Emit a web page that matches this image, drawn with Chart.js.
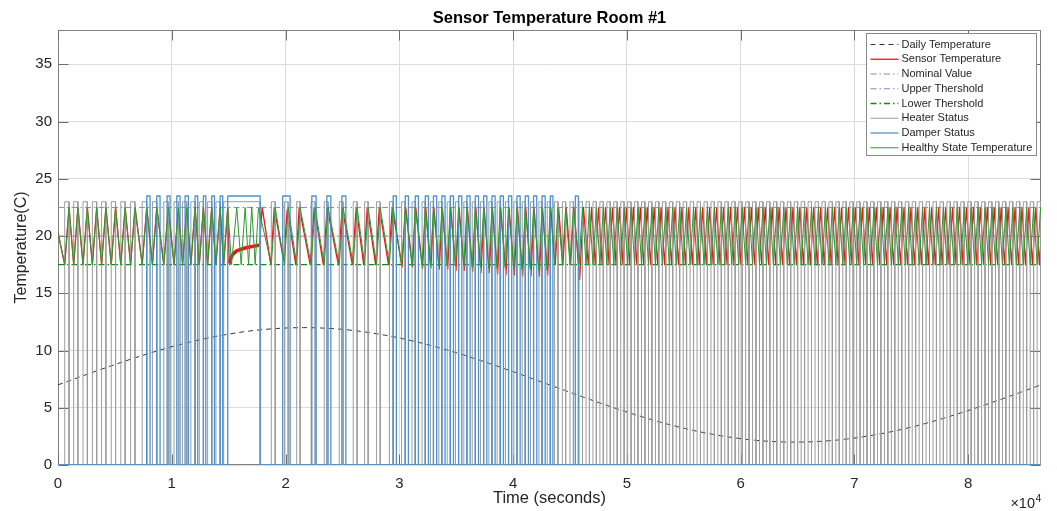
<!DOCTYPE html>
<html><head><meta charset="utf-8">
<script src="https://cdn.jsdelivr.net/npm/chart.js@4.4.1/dist/chart.umd.min.js"></script>
<style>html,body{margin:0;padding:0;background:#fff;}canvas{display:block;}</style>
</head><body>
<canvas id="c" width="1057" height="511"></canvas>
<script>
// ---------------- data (seconds, degrees C) ----------------
const xTickValues = [0,10000,20000,30000,40000,50000,60000,70000,80000];
const xTickLabels = ['0','1','2','3','4','5','6','7','8'];
const yTickValues = [0,5,10,15,20,25,30,35];
const yTickLabels = ['0','5','10','15','20','25','30','35'];

const dailyTime = [0,3600,7200,10800,14400,18000,21600,25200,28800,32400,36000,39600,43200,46800,50400,54000,57600,61200,64800,68400,72000,75600,79200,82800,86400];
const dailyTemp = [7,8.29,9.5,10.54,11.33,11.83,12,11.83,11.33,10.54,9.5,8.29,7,5.71,4.5,3.46,2.67,2.17,2,2.17,2.67,3.46,4.5,5.71,7];

const nominalValue = 20;
const upperThreshold = 22.5;
const lowerThreshold = 17.5;
const heaterLevel = 23;
const damperLevel = 23.5;

const healthyTime = [0,
 590,970, 1380,1750, 2200,2580, 3020,3400, 3830,4210, 4680,5060, 5520,5900, 6380,6770,
 7400,7800, 8300,8680, 9300,9700, 10200,10580, 10950,11320, 11680,12050, 12420,12780, 13150,13510, 13880,14250, 14560,14920,
 15250,15710, 16100,16450, 16750,17030, 17330,17620,
 18750,19090, 19900,20230, 20980,21280, 22250,22600, 23400,23740, 24720,25060, 25950,26290, 26950,27260, 28000,28320, 29130,29460,
 30200,30520, 31120,31400, 32000,32280, 32730,33000, 33470,33740, 34210,34480, 34940,35210, 35670,35940, 36410,36680, 37140,37410,
 37870,38140, 38600,38870, 39330,39600, 40070,40340, 40800,41070, 41530,41800, 42270,42540, 43000,43270,
 43650,43950, 44330,44620, 45000,45300, 45800,46100,
 46410,46710, 47020,47320, 47630,47930, 48240,48540, 48850,49150, 49460,49760, 50070,50370, 50680,50980, 51290,51590, 51900,52200,
 52510,52810, 53120,53420, 53730,54030, 54340,54640, 54950,55250, 55560,55860, 56170,56470, 56780,57080, 57390,57690, 58000,58300,
 58610,58910, 59220,59520, 59830,60130, 60440,60740, 61050,61350, 61660,61960, 62270,62570, 62880,63180, 63490,63790, 64100,64400,
 64710,65010, 65320,65620, 65930,66230, 66540,66840, 67150,67450, 67760,68060, 68370,68670, 68980,69280, 69590,69890, 70200,70500,
 70810,71110, 71420,71720, 72030,72330, 72640,72940, 73250,73550, 73860,74160, 74470,74770, 75080,75380, 75690,75990, 76300,76600,
 76910,77210, 77520,77820, 78130,78430, 78740,79040, 79350,79650, 79960,80260, 80570,80870, 81180,81480, 81790,82090, 82400,82700,
 83010,83310, 83620,83920, 84230,84530, 84840,85140, 85450,85750, 86060,86360,
 86400];
const healthyTemp = [20.3,
 17.5,22.5, 17.5,22.5, 17.5,22.5, 17.5,22.5, 17.5,22.5, 17.5,22.5, 17.5,22.5, 17.5,22.5,
 17.5,22.5, 17.5,22.5, 17.5,22.5, 17.5,22.5, 17.5,22.5, 17.5,22.5, 17.5,22.5, 17.5,22.5, 17.5,22.5, 17.5,22.5,
 17.5,22.5, 17.5,22.5, 17.5,22.5, 17.5,22.5,
 17.5,22.5, 17.5,22.5, 17.5,22.5, 17.5,22.5, 17.5,22.5, 17.5,22.5, 17.5,22.5, 17.5,22.5, 17.5,22.5, 17.5,22.5,
 17.4,22.5, 17.4,22.5, 17.4,22.5, 17.4,22.5, 17.4,22.5, 17.4,22.5, 17.4,22.5, 17.4,22.5, 17.3,22.5, 17.3,22.5,
 17.2,22.5, 17.2,22.5, 17.2,22.5, 17.1,22.5, 17.1,22.5, 17.1,22.5, 17.0,22.5, 17.0,22.5,
 17.5,22.5, 17.5,22.5, 17.5,22.5, 17.5,22.5,
 17.5,22.5, 17.5,22.5, 17.5,22.5, 17.5,22.5, 17.5,22.5, 17.5,22.5, 17.5,22.5, 17.5,22.5, 17.5,22.5, 17.5,22.5,
 17.5,22.5, 17.5,22.5, 17.5,22.5, 17.5,22.5, 17.5,22.5, 17.5,22.5, 17.5,22.5, 17.5,22.5, 17.5,22.5, 17.5,22.5,
 17.5,22.5, 17.5,22.5, 17.5,22.5, 17.5,22.5, 17.5,22.5, 17.5,22.5, 17.5,22.5, 17.5,22.5, 17.5,22.5, 17.5,22.5,
 17.5,22.5, 17.5,22.5, 17.5,22.5, 17.5,22.5, 17.5,22.5, 17.5,22.5, 17.5,22.5, 17.5,22.5, 17.5,22.5, 17.5,22.5,
 17.5,22.5, 17.5,22.5, 17.5,22.5, 17.5,22.5, 17.5,22.5, 17.5,22.5, 17.5,22.5, 17.5,22.5, 17.5,22.5, 17.5,22.5,
 17.5,22.5, 17.5,22.5, 17.5,22.5, 17.5,22.5, 17.5,22.5, 17.5,22.5, 17.5,22.5, 17.5,22.5, 17.5,22.5, 17.5,22.5,
 17.5,22.5, 17.5,22.5, 17.5,22.5, 17.5,22.5, 17.5,22.5, 17.5,22.5,
 22.2];

const sensorTime = [0,
 590,970, 1380,1750, 2200,2580, 3020,3400, 3830,4210, 4680,5060, 5520,5900, 6380,6770,
 7400,7800, 8300,8680, 9300,9700, 10200,10580, 10950,11320, 11680,12050, 12420,12780, 13150,13510, 13880,14250, 14560,14920,
 15050,15200,15400,15700,16100,16600,17100,17700,
 17950, 18700,19010, 19820,20150, 20900,21200, 22170,22520, 23320,23660, 24640,24980, 25870,26210, 26870,27180, 27920,28240, 29050,29380,
 30240,30560, 31160,31440, 32040,32320, 32770,33040, 33510,33780, 34250,34520, 34980,35250, 35710,35980, 36450,36720, 37180,37450,
 37910,38180, 38640,38910, 39370,39640, 40110,40380, 40840,41110, 41570,41840, 42310,42580, 43040,43310,
 43700,44000, 44380,44670, 45050,45350, 45850,46180,
 46610,46910, 47220,47520, 47830,48130, 48440,48740, 49050,49350, 49660,49960, 50270,50570, 50880,51180, 51490,51790, 52100,52400,
 52710,53010, 53320,53620, 53930,54230, 54540,54840, 55150,55450, 55760,56060, 56370,56670, 56980,57280, 57590,57890, 58200,58500,
 58810,59110, 59420,59720, 60030,60330, 60640,60940, 61250,61550, 61860,62160, 62470,62770, 63080,63380, 63690,63990, 64300,64600,
 64910,65210, 65520,65820, 66130,66430, 66740,67040, 67350,67650, 67960,68260, 68570,68870, 69180,69480, 69790,70090, 70400,70700,
 71010,71310, 71620,71920, 72230,72530, 72840,73140, 73450,73750, 74060,74360, 74670,74970, 75280,75580, 75890,76190, 76500,76800,
 77110,77410, 77720,78020, 78330,78630, 78940,79240, 79550,79850, 80160,80460, 80770,81070, 81380,81680, 81990,82290, 82600,82900,
 83210,83510, 83820,84120, 84430,84730, 85040,85340, 85650,85950, 86260,
 86400];
const sensorTemp = [20.3,
 17.5,22.5, 17.5,22.5, 17.5,22.5, 17.5,22.5, 17.5,22.5, 17.5,22.5, 17.5,22.5, 17.5,22.5,
 17.5,22.5, 17.5,22.5, 17.5,22.5, 17.5,22.5, 17.5,22.5, 17.5,22.5, 17.5,22.5, 17.5,22.5, 17.5,22.5, 17.5,22.5,
 17.6,18.1,18.45,18.7,18.85,19.0,19.1,19.2,
 22.5, 17.5,22.5, 17.9,22.3, 17.5,22.5, 17.5,22.5, 17.5,22.5, 17.5,22.5, 17.5,22.5, 17.5,22.5, 17.5,22.5, 17.5,22.5,
 17.3,22.5, 17.3,22.5, 17.2,22.5, 17.2,22.5, 17.1,22.5, 17.1,22.5, 17.0,22.5, 17.0,22.5, 16.9,22.5, 16.8,22.5,
 16.8,22.5, 16.7,22.5, 16.6,22.5, 16.6,22.5, 16.5,22.5, 16.5,22.5, 16.5,22.5, 16.6,22.5,
 17.5,22.5, 17.5,22.5, 17.5,22.5, 16.2,22.5,
 17.5,22.5, 17.5,22.5, 17.5,22.5, 17.5,22.5, 17.5,22.5, 17.5,22.5, 17.5,22.5, 17.5,22.5, 17.5,22.5, 17.5,22.5,
 17.5,22.5, 17.5,22.5, 17.5,22.5, 17.5,22.5, 17.5,22.5, 17.5,22.5, 17.5,22.5, 17.5,22.5, 17.5,22.5, 17.5,22.5,
 17.5,22.5, 17.5,22.5, 17.5,22.5, 17.5,22.5, 17.5,22.5, 17.5,22.5, 17.5,22.5, 17.5,22.5, 17.5,22.5, 17.5,22.5,
 17.5,22.5, 17.5,22.5, 17.5,22.5, 17.5,22.5, 17.5,22.5, 17.5,22.5, 17.5,22.5, 17.5,22.5, 17.5,22.5, 17.5,22.5,
 17.5,22.5, 17.5,22.5, 17.5,22.5, 17.5,22.5, 17.5,22.5, 17.5,22.5, 17.5,22.5, 17.5,22.5, 17.5,22.5, 17.5,22.5,
 17.5,22.5, 17.5,22.5, 17.5,22.5, 17.5,22.5, 17.5,22.5, 17.5,22.5, 17.5,22.5, 17.5,22.5, 17.5,22.5, 17.5,22.5,
 17.5,22.5, 17.5,22.5, 17.5,22.5, 17.5,22.5, 17.5,22.5, 17.5,
 19.8];

const heaterOn = [590,1380,2200,3020,3830,4680,5520,6380,
 7400,8300,9300,10200,10950,11680,12420,13150,13880,14560,
 18750,19900,20980,22250,23400,24720,25950,26950,28000,29130,
 30200,31120,32000,32730,33470,34210,34940,35670,36410,37140,37870,38600,39330,40070,40800,41530,42270,43000,
 43650,44330,45000,45800,
 46410,47020,47630,48240,48850,49460,50070,50680,51290,51900,52510,53120,53730,54340,54950,55560,56170,56780,57390,58000,
 58610,59220,59830,60440,61050,61660,62270,62880,63490,64100,64710,65320,65930,66540,67150,67760,68370,68980,69590,70200,
 70810,71420,72030,72640,73250,73860,74470,75080,75690,76300,76910,77520,78130,78740,79350,79960,80570,81180,81790,82400,
 83010,83620,84230,84840,85450,86060];
const heaterOff = [970,1750,2580,3400,4210,5060,5900,6770,
 7800,8680,9700,10580,11320,12050,12780,13510,14250,17770,
 19090,20230,21280,22600,23740,25060,26290,27260,28320,29460,
 30520,31400,32280,33000,33740,34480,35210,35940,36680,37410,38140,38870,39600,40340,41070,41800,42540,43270,
 43950,44620,45300,46100,
 46710,47320,47930,48540,49150,49760,50370,50980,51590,52200,52810,53420,54030,54640,55250,55860,56470,57080,57690,58300,
 58910,59520,60130,60740,61350,61960,62570,63180,63790,64400,65010,65620,66230,66840,67450,68060,68670,69280,69890,70500,
 71110,71720,72330,72940,73550,74160,74770,75380,75990,76600,77210,77820,78430,79040,79650,80260,80870,81480,82090,82700,
 83310,83920,84530,85140,85750,86360];

const damperOn = [7800,8680,9590,10440,11170,12050,12780,13510,14250,14920,
 19750,22310,23630,24950,
 29460,30520,31400,32280,33000,33740,34480,35210,35940,36680,37410,38140,38870,39600,40340,41070,41800,42540,43270,
 45470];
const damperOff = [8090,8970,9850,10730,11460,12280,12990,13750,14480,17770,
 20400,22690,23980,25300,
 29740,30800,31680,32560,33280,34020,34760,35490,36220,36960,37690,38420,39150,39880,40620,41350,42080,42820,43500,
 45730];

const dayEnd = 86400;

// ---------------- helpers ----------------
const pts = (ts, vs) => ts.map((t, i) => ({x: t, y: vs[i]}));
function squareWave(on, off, level) {
  const p = [{x: 0, y: 0}];
  on.forEach((t, i) => { p.push({x: t, y: 0}, {x: t, y: level}, {x: off[i], y: level}, {x: off[i], y: 0}); });
  p.push({x: dayEnd, y: 0});
  return p;
}
const hline = v => [{x: 0, y: v}, {x: dayEnd, y: v}];
const FONT = '"Liberation Sans", Arial, Helvetica, sans-serif';
Chart.defaults.font.family = FONT;

const decor = {
  id: 'decor',
  beforeDatasetsDraw(chart) {
    const {ctx, chartArea: a, scales: {x, y}} = chart;
    ctx.save();
    ctx.strokeStyle = '#808080'; ctx.lineWidth = 1;
    const L = Math.round(a.left) + 0.5, T = Math.round(a.top) + 0.5, R = Math.round(a.right) - 0.5, B = Math.round(a.bottom) - 0.5;
    ctx.strokeRect(L, T, R - L, B - T);
    ctx.strokeStyle = '#6e6e6e';
    ctx.beginPath();
    x.ticks.forEach(t => { const px = Math.round(x.getPixelForValue(t.value)) + 0.5;
      ctx.moveTo(px, T); ctx.lineTo(px, T + 10); ctx.moveTo(px, B); ctx.lineTo(px, B - 10); });
    y.ticks.forEach(t => { const py = Math.round(y.getPixelForValue(t.value)) + 0.5;
      ctx.moveTo(L, py); ctx.lineTo(L + 10, py); ctx.moveTo(R, py); ctx.lineTo(R - 10, py); });
    ctx.stroke();
    ctx.restore();
  },
  afterDraw(chart) {
    const {ctx, chartArea: a} = chart;
    const cx = (a.left + a.right) / 2;
    ctx.save();
    ctx.fillStyle = '#000';
    ctx.textAlign = 'center'; ctx.textBaseline = 'middle';
    ctx.font = 'bold 16.5px ' + FONT;
    ctx.fillText('Sensor Temperature Room #1', cx, 18);
    ctx.fillStyle = '#262626';
    ctx.font = '16.5px ' + FONT;
    ctx.fillText('Time (seconds)', cx, 498);
    ctx.save();
    ctx.translate(22, (a.top + a.bottom) / 2);
    ctx.rotate(-Math.PI / 2);
    ctx.font = '16px ' + FONT;
    ctx.fillText('Temperature(C)', 0, 0);
    ctx.restore();
    // exponent
    ctx.textAlign = 'right'; ctx.textBaseline = 'alphabetic';
    ctx.font = '14.5px ' + FONT;
    ctx.fillText('\u00d710', 1035, 508);
    ctx.textAlign = 'left';
    ctx.font = '10.5px ' + FONT;
    ctx.fillText('4', 1035.5, 502);
    // legend
    const bx = a.right - 174.5, by = a.top + 3.5, bw = 170, bh = 122;
    ctx.fillStyle = '#fff'; ctx.fillRect(bx, by, bw, bh);
    ctx.strokeStyle = '#8a8a8a'; ctx.lineWidth = 1; ctx.strokeRect(bx, by, bw, bh);
    ctx.font = '11px ' + FONT; ctx.textBaseline = 'middle'; ctx.textAlign = 'left';
    chart.data.datasets.forEach((ds, i) => {
      const yy = by + 11 + i * 14.75;
      ctx.strokeStyle = ds.borderColor; ctx.lineWidth = Math.min(ds.borderWidth, 1.3);
      ctx.setLineDash(ds.borderDash || []);
      ctx.beginPath(); ctx.moveTo(bx + 4, yy); ctx.lineTo(bx + 32, yy); ctx.stroke();
      ctx.setLineDash([]);
      ctx.fillStyle = '#262626';
      ctx.fillText(ds.label, bx + 35, yy);
    });
    ctx.restore();
  }
};

const DASHDOT = [6, 3, 1.5, 3];
new Chart(document.getElementById('c'), {
  type: 'line',
  data: {
    datasets: [
      {label: 'Daily Temperature', data: pts(dailyTime, dailyTemp), borderColor: '#333333', borderWidth: 1, borderDash: [5, 4], cubicInterpolationMode: 'monotone', order: 8},
      {label: 'Sensor Temperature', data: pts(sensorTime, sensorTemp), borderColor: '#f01414', borderWidth: 1.3, order: 7,
        segment: {borderWidth: c => (c.p0.parsed.x >= 15000 && c.p1.parsed.x <= 17700) ? 3.5 : 1.3}},
      {label: 'Nominal Value', data: hline(nominalValue), borderColor: '#a57ab8', borderWidth: 1, borderDash: DASHDOT, order: 6},
      {label: 'Upper Thershold', data: hline(upperThreshold), borderColor: '#8088c8', borderWidth: 1, borderDash: DASHDOT, order: 5},
      {label: 'Lower Thershold', data: hline(lowerThreshold), borderColor: '#128c12', borderWidth: 1.3, borderDash: DASHDOT, order: 4},
      {label: 'Heater Status', data: squareWave(heaterOn, heaterOff, heaterLevel), borderColor: '#9c9c9c', borderWidth: 1, order: 3},
      {label: 'Damper Status', data: squareWave(damperOn, damperOff, damperLevel), borderColor: '#4b93d3', borderWidth: 1.3, order: 2},
      {label: 'Healthy State Temperature', data: pts(healthyTime, healthyTemp), borderColor: '#30982f', borderWidth: 1, order: 1}
    ]
  },
  options: {
    responsive: false, animation: false, devicePixelRatio: 1, events: [],
    layout: {padding: {left: 0, right: 16, top: 30, bottom: 0}},
    elements: {point: {radius: 0}, line: {tension: 0, borderJoinStyle: 'round'}},
    plugins: {legend: {display: false}, tooltip: {enabled: false}, title: {display: false}},
    scales: {
      x: {type: 'linear', min: 0, max: dayEnd,
        grid: {color: '#dcdcdc', drawTicks: false}, border: {display: false},
        ticks: {autoSkip: false, maxRotation: 0, padding: 10,
          color: '#262626', font: {size: 15}, callback: (v, i) => xTickLabels[i]},
        afterBuildTicks: s => { s.ticks = xTickValues.map(v => ({value: v})); },
        afterFit: s => { s.height = 46; }},
      y: {type: 'linear', min: 0, max: 38,
        grid: {color: '#dcdcdc', drawTicks: false}, border: {display: false},
        ticks: {padding: 6, color: '#262626', font: {size: 15}, callback: (v, i) => yTickLabels[i]},
        afterBuildTicks: s => { s.ticks = yTickValues.map(v => ({value: v})); },
        afterFit: s => { s.width = 58; }}
    }
  },
  plugins: [decor]
});
</script></body></html>
